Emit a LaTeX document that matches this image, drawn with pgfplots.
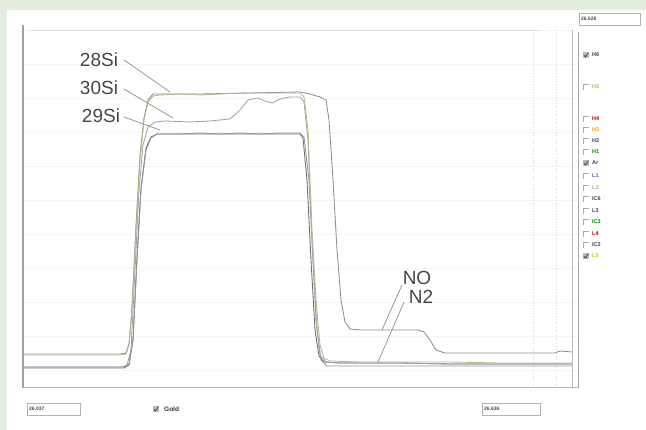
\documentclass[border=0pt]{standalone}
\usepackage{pgfplots}
\pgfplotsset{compat=1.18}
\usepackage{fontspec}
\setmainfont{Liberation Sans}
\definecolor{bgg}{HTML}{E3EEDF}
\definecolor{siA}{HTML}{B9B98C}
\definecolor{siB}{HTML}{A2A2AC}
\definecolor{siC}{HTML}{9696A6}
\definecolor{noC}{HTML}{8E8E8E}
\definecolor{nC}{HTML}{6E6E6E}
\definecolor{lblC}{HTML}{474747}
\definecolor{navy}{HTML}{3A3F5C}
\newcommand\unchk[1]{\draw[gray!65,line width=0.8pt] (583,#1-3) -- (583,#1+3) -- (589,#1+3);}
\newcommand\chk[1]{\fill[gray!55] (583,#1-3) rectangle (589,#1+3);\draw[black!75,line width=0.7pt] (583.8,#1) -- (585.6,#1-2) -- (588.4,#1+2.4);}
\newcommand\lbl[3]{\node[anchor=west,inner sep=0pt,text=#2,font=\fontsize{5.5}{6}\selectfont\bfseries] at (592,#1) {#3};}
\begin{document}
\begin{tikzpicture}[x=1pt,y=1pt]
\fill[bgg] (0,0) rectangle (646,430);
\fill[white] (7,0) rectangle (646,420);
\begin{axis}[at={(22pt,42pt)}, anchor=south west, scale only axis,
  width=556pt, height=363pt, xmin=22, xmax=578, ymin=42, ymax=405,
  axis line style={draw=none}, xtick=\empty,
  ytick={60,94,128,162,196,230,264,298,332,366,400}, yticklabels={},
  major tick length=0pt, ymajorgrids, grid style={gray!7, line width=0.6pt},
  every axis plot/.append style={no marks, line width=0.85pt, line join=round}]
% N2
\addplot[nC] coordinates {(22,62) (124,62) (129,65) (133,90) (137,172) (141,242) (146,282) (151,293) (157,296) (200,296) (250,296) (300,296) (303,292) (307,250) (311,170) (315,100) (319,74) (324,68) (340,67) (400,67) (450,66) (500,66) (572,66)};
% 29Si
\addplot[siC] coordinates {(22,63) (124,63) (129,66) (133,90) (137,170) (141,240) (146,280) (151,292) (157,296) (180,296) (200,297) (220,296) (240,297) (260,296) (280,297) (300,297) (304,293) (309,250) (313,170) (317,100) (321,70) (327,64) (400,64) (572,64)};
% 30Si
\addplot[siB] coordinates {(22,63) (122,63) (127,65) (131,80) (135,160) (139,240) (143,285) (148,303) (155,308) (165,309) (190,308) (210,309) (230,311) (240,320) (248,330) (258,332) (265,329) (272,327) (280,331) (290,333) (300,333) (304,328) (308,290) (312,190) (316,110) (320,75) (326,68) (340,67) (400,67) (450,66) (572,66)};
% NO
\addplot[noC] coordinates {(22,76) (120,76) (126,77) (129,86) (132,122) (136,205) (140,275) (144,312) (148,330) (153,336) (200,336) (250,337) (300,338) (310,336) (320,333) (326,330) (329,310) (333,250) (337,180) (341,130) (345,108) (350,101) (360,100) (400,100) (418,100) (424,98) (430,90) (436,80) (445,77) (500,77) (520,77) (555,77) (560,79) (572,78)};
% 28Si
\addplot[siA] coordinates {(22,75) (120,75) (126,76) (129,85) (132,120) (136,200) (140,270) (144,310) (148,328) (153,334) (160,335) (180,336) (200,335) (220,336) (240,337) (260,337) (280,337) (300,337) (304,333) (308,300) (312,200) (316,130) (320,85) (324,72) (330,69) (360,68) (400,68) (450,68) (500,67) (572,67)};
\end{axis}
% frame
\draw[gray!75,line width=1.2pt] (23,405) -- (23,42);
\draw[gray!60,line width=1pt] (22,42) -- (579,42);
\draw[gray!25,line width=0.6pt] (30,400) -- (540,400);
\draw[gray!55,line width=0.8pt] (572,400) -- (572,42);
\draw[gray!70,line width=0.9pt] (578,398) -- (578,42);
\draw[gray!35,dotted,line width=0.7pt] (533,400) -- (533,44);
\draw[gray!35,dotted,line width=0.7pt] (556,400) -- (556,44);
% annotations
\begin{scope}[font=\fontsize{19}{21}\selectfont, text=lblC]
\node at (99,370) {28Si};
\node at (99,342) {30Si};
\node at (101,314) {29Si};
\node at (417,152) {NO};
\node at (421,133) {N2};
\end{scope}
\draw[gray!80,line width=0.8pt] (124,370) -- (170,338);
\draw[gray!80,line width=0.8pt] (124,341) -- (173,312);
\draw[gray!80,line width=0.8pt] (124,313) -- (160,300);
\draw[gray!80,line width=0.8pt] (402,145) -- (382,100);
\draw[gray!80,line width=0.8pt] (404,128) -- (378,68);
% right panel
\draw[gray!60,line width=0.8pt] (579,405) rectangle (640,417);
\node[anchor=west,inner sep=0pt,font=\fontsize{5}{6}\selectfont\bfseries,text=black!70] at (581,411) {26.628};
\chk{375}\lbl{375}{navy}{H6}
\unchk{343}\lbl{343}{siA!90!green}{H5}
\unchk{311}\lbl{311}{red!70!black}{H4}
\unchk{300}\lbl{300}{orange!80!yellow}{H3}
\unchk{289}\lbl{289}{navy}{H2}
\unchk{278}\lbl{278}{green!55!black}{H1}
\chk{267}\lbl{267}{navy}{Ar}
\unchk{254}\lbl{254}{blue!30!gray}{L1}
\unchk{242}\lbl{242}{gray!70}{L2}
\unchk{231}\lbl{231}{navy}{IC6}
\unchk{219}\lbl{219}{navy}{L3}
\unchk{208}\lbl{208}{green!50!black}{IC3}
\unchk{196}\lbl{196}{red!65!black}{L4}
\unchk{185}\lbl{185}{navy}{IC2}
\chk{174}\lbl{174}{yellow!60!olive}{L5}
% bottom
\draw[gray!60,line width=0.8pt] (27,15) rectangle (80,27);
\node[anchor=west,inner sep=0pt,font=\fontsize{5}{6}\selectfont\bfseries,text=black!70] at (29,21) {26.037};
\draw[gray!60,line width=0.8pt] (482,15) rectangle (540,27);
\node[anchor=west,inner sep=0pt,font=\fontsize{5}{6}\selectfont\bfseries,text=black!70] at (484,21) {26.636};
\fill[gray!55] (153,18) rectangle (159,24);
\draw[black!75,line width=0.7pt] (153.8,21) -- (155.6,19) -- (158.4,23.4);
\node[anchor=west,inner sep=0pt,font=\fontsize{6.5}{7}\selectfont\bfseries,text=black!80] at (164,21) {Gold};
\end{tikzpicture}
\end{document}
